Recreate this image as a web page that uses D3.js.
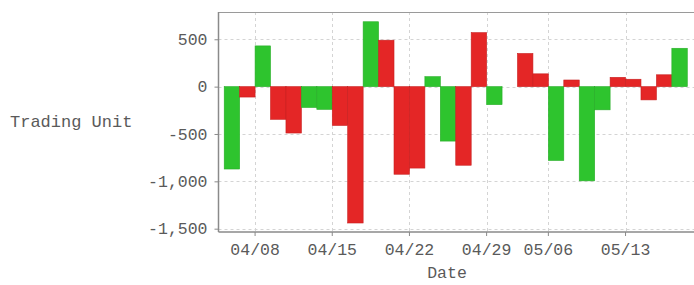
<!DOCTYPE html>
<html>
<head>
<meta charset="utf-8">
<script src="https://cdn.jsdelivr.net/npm/d3@7"></script>
<style>
  body { margin: 0; background: #fff; }
  text { font-family: "Liberation Mono", "DejaVu Sans Mono", monospace; fill: #5a5a5a; }
</style>
</head>
<body>
<svg id="chart" width="694" height="285"></svg>
<script>
// trading days (30 slots, 04/30 has no volume)
const dates = ['04/04', '04/05', '04/08', '04/09', '04/10', '04/11', '04/12',
  '04/15', '04/16', '04/17', '04/18', '04/19', '04/22', '04/23', '04/24', '04/25', '04/26',
  '04/29', '04/30', '05/02', '05/03', '05/06', '05/07', '05/08', '05/09', '05/10',
  '05/13', '05/14', '05/15', '05/16'];
const units = [-870, -110, 430, -345, -490, -220, -240,
  -410, -1440, 685, 490, -925, -860, 105, -575, -830, 570,
  -190, 0, 350, 135, -780, 70, -995, -245, 98,
  78, -140, 125, 405];
// 'b' = green bar, 's' = red bar
const side = ['b', 's', 'b', 's', 's', 'b', 'b',
  's', 's', 'b', 's', 's', 's', 'b', 'b', 's', 's',
  'b', 's', 's', 's', 'b', 's', 'b', 'b', 's',
  's', 's', 's', 'b'];
const xTicks = ['04/08', '04/15', '04/22', '04/29', '05/06', '05/13'];
const yTicks = [500, 0, -500, -1000, -1500];

const rows = dates.map((d, i) => ({ date: d, value: units[i], side: side[i] }));

const svg = d3.select('#chart');
const mLeft = 218.5, mRight = 693, mTop = 12, mBottom = 232;

const x = d3.scaleBand()
  .domain(dates)
  .range([mLeft, mRight])
  .paddingInner(0)
  .paddingOuter(0.37);

const y = d3.scaleLinear()
  .domain([-1535, 788])
  .range([mBottom, mTop]);

const fmt = (d) => d3.format(',')(d).replace('\u2212', '-');

// grid
const grid = svg.append('g')
  .attr('stroke', '#d4d4d4')
  .attr('stroke-dasharray', '3,3')
  .attr('stroke-width', 1);
grid.selectAll('line.h')
  .data(yTicks)
  .join('line')
  .attr('class', 'h')
  .attr('x1', mLeft)
  .attr('x2', mRight + 1)
  .attr('y1', (d) => Math.round(y(d)) + 0.5)
  .attr('y2', (d) => Math.round(y(d)) + 0.5);
grid.selectAll('line.v')
  .data(xTicks)
  .join('line')
  .attr('class', 'v')
  .attr('x1', (d) => Math.round(x(d)) + 0.5)
  .attr('x2', (d) => Math.round(x(d)) + 0.5)
  .attr('y1', mTop)
  .attr('y2', mBottom);

// bars
svg.append('g')
  .selectAll('rect')
  .data(rows.filter((r) => r.value !== 0))
  .join('rect')
  .attr('x', (d) => x(d.date))
  .attr('width', x.bandwidth())
  .attr('y', (d) => y(Math.max(0, d.value)))
  .attr('height', (d) => Math.abs(y(d.value) - y(0)))
  .attr('fill', (d) => (d.side === 'b' ? '#2ec42e' : '#e42626'))
  .attr('stroke', (d) => (d.side === 'b' ? '#27ad27' : '#c81f1f'))
  .attr('stroke-width', 0.6);

// frame top
svg.append('line')
  .attr('x1', mLeft).attr('x2', 694)
  .attr('y1', mTop + 0.5).attr('y2', mTop + 0.5)
  .attr('stroke', '#9a9a9a');

// y axis
const yAxis = svg.append('g')
  .attr('transform', `translate(${mLeft},0)`)
  .call(d3.axisLeft(y).tickValues(yTicks).tickFormat(fmt).tickSize(4).tickPadding(7));
yAxis.select('.domain').attr('stroke', '#8a8a8a').attr('stroke-width', 1.5)
  .attr('d', `M0,${mTop}V${mBottom}`);
yAxis.selectAll('.tick line').attr('stroke', '#8a8a8a');
yAxis.selectAll('text').attr('font-size', 16.5).attr('fill', '#5a5a5a');

// x axis
const xAxis = svg.append('g')
  .attr('transform', `translate(0,${mBottom})`)
  .call(d3.axisBottom(x).tickValues(xTicks).tickSize(4).tickPadding(7));
xAxis.selectAll('.tick').attr('transform', (d) => `translate(${x(d)},0)`);
xAxis.select('.domain').attr('stroke', '#8a8a8a').attr('stroke-width', 1.5)
  .attr('d', `M${mLeft},0H694`);
xAxis.selectAll('.tick line').attr('stroke', '#8a8a8a');
xAxis.selectAll('text').attr('font-size', 16.5).attr('fill', '#5a5a5a');

// axis titles
svg.append('text')
  .attr('x', 447)
  .attr('y', 278)
  .attr('text-anchor', 'middle')
  .attr('font-size', 16.5)
  .text('Date');

svg.append('text')
  .attr('x', 10)
  .attr('y', 127)
  .attr('font-size', 17)
  .text('Trading Unit');
</script>
</body>
</html>
